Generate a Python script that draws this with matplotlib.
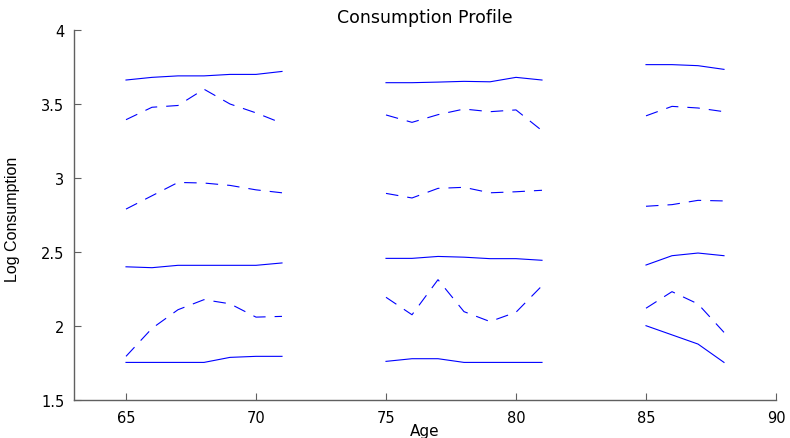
import matplotlib
matplotlib.use("Agg")
import matplotlib.pyplot as plt

plt.rcParams['font.family'] = ['DejaVu Sans']
plt.rcParams['lines.scale_dashes'] = False

ages1 = [65, 66, 67, 68, 69, 70, 71]
ages2 = [75, 76, 77, 78, 79, 80, 81]
ages3 = [85, 86, 87, 88]

# group 1 (ages 65-71)
g1_s_top = [3.662, 3.68, 3.69, 3.69, 3.70, 3.70, 3.72]
g1_d_top = [3.394, 3.478, 3.49, 3.60, 3.50, 3.44, 3.37]
g1_d_mid = [2.79, 2.88, 2.97, 2.966, 2.95, 2.92, 2.90]
g1_s_mid = [2.40, 2.394, 2.41, 2.41, 2.41, 2.41, 2.426]
g1_d_low = [1.795, 1.984, 2.11, 2.178, 2.15, 2.06, 2.065]
g1_s_low = [1.754, 1.754, 1.754, 1.754, 1.788, 1.795, 1.795]

# group 2 (ages 75-81)
g2_s_top = [3.644, 3.644, 3.648, 3.653, 3.65, 3.68, 3.662]
g2_d_top = [3.426, 3.376, 3.428, 3.466, 3.448, 3.46, 3.32]
g2_d_mid = [2.896, 2.865, 2.93, 2.937, 2.90, 2.907, 2.917]
g2_s_mid = [2.457, 2.457, 2.47, 2.465, 2.455, 2.455, 2.444]
g2_d_low = [2.194, 2.076, 2.313, 2.097, 2.03, 2.093, 2.272]
g2_s_low = [1.761, 1.779, 1.779, 1.754, 1.754, 1.754, 1.754]

# group 3 (ages 85-88)
g3_s_top = [3.766, 3.766, 3.759, 3.734]
g3_d_top = [3.42, 3.484, 3.473, 3.448]
g3_d_mid = [2.809, 2.82, 2.849, 2.845]
g3_s_mid = [2.412, 2.475, 2.493, 2.475]
g3_d_low = [2.12, 2.232, 2.149, 1.957]
g3_s_low = [2.002, 1.94, 1.878, 1.754]

xticks = [65, 70, 75, 80, 85, 90]
yticks = [1.5, 2, 2.5, 3, 3.5, 4]
yticklabels = ['1.5', '2', '2.5', '3', '3.5', '4']

fig = plt.figure(figsize=(7.9, 4.39), dpi=100)
ax = fig.add_axes([74/790, 1-401/439, (776-74)/790, (401-31)/439])

blue = '#0000ff'
lw = 0.8
dash = (0, (9, 6.5))
groups = [
    (ages1, [g1_s_top, g1_d_top, g1_d_mid, g1_s_mid, g1_d_low, g1_s_low]),
    (ages2, [g2_s_top, g2_d_top, g2_d_mid, g2_s_mid, g2_d_low, g2_s_low]),
    (ages3, [g3_s_top, g3_d_top, g3_d_mid, g3_s_mid, g3_d_low, g3_s_low]),
]
styles = ['-', dash, dash, '-', dash, '-']
for ages, series in groups:
    for s, st in zip(series, styles):
        ax.plot(ages, s, color=blue, lw=lw, linestyle=st)

ax.set_xlim(63, 90)
ax.set_ylim(1.5, 4)
ax.set_xticks(xticks)
ax.set_yticks(yticks)
ax.set_yticklabels(yticklabels)
for sp in ['top', 'right']:
    ax.spines[sp].set_visible(False)
for sp in ['left', 'bottom']:
    ax.spines[sp].set_color('#606060')
    ax.spines[sp].set_linewidth(1.0)
ax.tick_params(direction='in', length=5, width=0.8, color='#606060',
               labelsize=10.5, labelcolor='black')
ax.tick_params(axis='y', pad=7)
ax.tick_params(axis='x', pad=7)
ax.set_title('Consumption Profile', fontsize=12.5, pad=6)
ax.set_xlabel('Age', fontsize=11, va='top')
ax.xaxis.set_label_coords(0.5, -0.062)
ax.set_ylabel('Log Consumption', fontsize=11.5,
              family=['Liberation Sans Narrow', 'Liberation Sans', 'DejaVu Sans'])
ax.yaxis.set_label_coords(-0.077, 0.49)

fig.savefig('out.png', dpi=100)
